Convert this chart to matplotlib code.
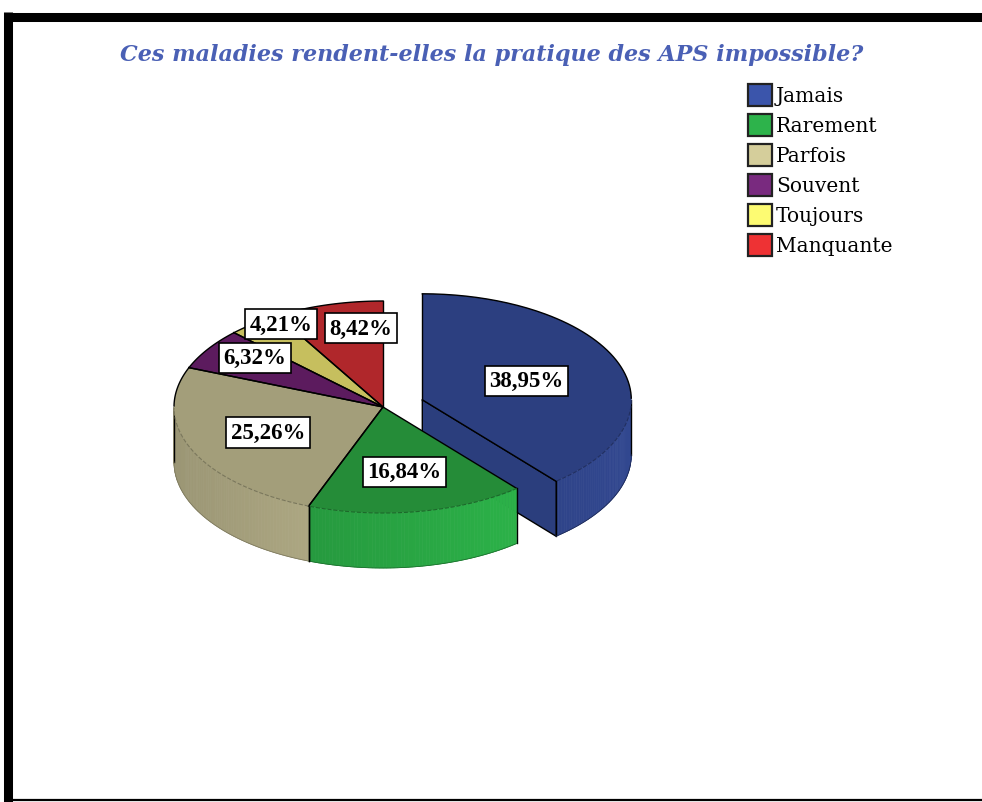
import numpy as np
import matplotlib.pyplot as plt
from matplotlib.patches import Polygon, Rectangle
from matplotlib.colors import to_rgb

# données
categories = ['Jamais', 'Rarement', 'Parfois', 'Souvent', 'Toujours', 'Manquante']
counts = [37, 16, 24, 6, 4, 8]
explode = [0.2, 0, 0, 0, 0, 0]

top_colors = ['#2c3f80', '#258c38', '#a39e7a', '#5c1b5e', '#c6bf5e', '#b0272b']
side_colors = ['#2b3e7d', '#28a242', '#b6b089', '#4e1650', '#aaa550', '#95202a']
legend_colors = ['#3b55ab', '#2db34b', '#d5ce9b', '#792a7f', '#fdfb72', '#ee3234']

# placement des étiquettes (rayon relatif, décalage angulaire)
label_r = [0.53, 0.62, 0.60, 0.77, 0.92, 0.75]
label_dt = [0, 0, 0, -4, -6, -7]

# géométrie du camembert (en pixels)
cx, cy = 383, 408
rx, ry = 209, 106
depth = 55

W, H = 982, 803
fig = plt.figure(figsize=(W / 100, H / 100), dpi=100)
ax = fig.add_axes([0, 0, 1, 1])
ax.set_xlim(0, W)
ax.set_ylim(H, 0)
ax.axis('off')

total = sum(counts)
fracs = [c / total for c in counts]


def pt(t, ox=0.0, oy=0.0, dz=0.0, r=1.0):
    a = np.radians(t)
    return cx + ox + r * rx * np.cos(a), cy + oy - r * ry * np.sin(a) + dz


def arc(a, b, ox, oy, dz=0.0):
    n = max(2, int(abs(b - a)) + 1)
    ts = np.linspace(a, b, n)
    xs, ys = pt(ts, ox, oy, dz)
    return np.column_stack([xs, ys])


def shade(c, f):
    return tuple(np.clip(np.array(to_rgb(c)) * f, 0, 1))


slices = []
start = 90.0
for i, f in enumerate(fracs):
    t1 = start
    t2 = start - f * 360
    mid = (t1 + t2) / 2
    ox = explode[i] * rx * np.cos(np.radians(mid))
    oy = -explode[i] * ry * np.sin(np.radians(mid))
    slices.append((i, t1, t2, mid, ox, oy))
    start = t2


def draw_slice(i, t1, t2, mid, ox, oy):
    # face coupée (seulement pour la part détachée)
    if explode[i] > 0:
        for t, nrm in ((t1, t1 + 90), (t2, t2 - 90)):
            if np.sin(np.radians(nrm)) < -0.01:
                c0 = pt(0, ox, oy, r=0)
                e0 = pt(t, ox, oy)
                face = [c0, e0, (e0[0], e0[1] + depth), (c0[0], c0[1] + depth)]
                ax.add_patch(Polygon(face, closed=True, facecolor=side_colors[i],
                                     edgecolor='black', lw=1.0, zorder=2))
    # paroi extérieure visible
    lo, hi = max(t2, -180), min(t1, 0)
    if hi > lo:
        ts = np.linspace(hi, lo, int(hi - lo) + 2)
        for a, b in zip(ts[:-1], ts[1:]):
            fac = 1 + 0.15 * np.cos(np.radians((a + b) / 2))
            top = arc(a, b, ox, oy)
            bot = arc(b, a, ox, oy, depth)
            ax.add_patch(Polygon(np.vstack([top, bot]), closed=True,
                                 facecolor=shade(side_colors[i], fac),
                                 edgecolor=shade(side_colors[i], fac), lw=0.5, zorder=2))
        for t in (hi, lo):
            x0, y0 = pt(t, ox, oy)
            ax.plot([x0, x0], [y0, y0 + depth], color='black', lw=1.0, zorder=3)
        b = arc(hi, lo, ox, oy, depth)
        ax.plot(b[:, 0], b[:, 1], color=shade(side_colors[i], 0.7), lw=0.6, zorder=3)
    # dessus
    c0 = pt(0, ox, oy, r=0)
    top = np.vstack([[c0], arc(t1, t2, ox, oy)])
    ax.add_patch(Polygon(top, closed=True, facecolor=top_colors[i],
                         edgecolor='none', zorder=4))
    for t in (t1, t2):
        e = pt(t, ox, oy)
        ax.plot([c0[0], e[0]], [c0[1], e[1]], color='black', lw=1.0, zorder=5)
    a = arc(t1, t2, ox, oy)
    back = np.sin(np.radians(np.linspace(t1, t2, len(a)))) >= 0
    ax.plot(np.where(back, a[:, 0], np.nan), np.where(back, a[:, 1], np.nan),
            color='black', lw=1.0, zorder=5)
    ax.plot(np.where(~back, a[:, 0], np.nan), np.where(~back, a[:, 1], np.nan),
            color=shade(top_colors[i], 0.75), lw=0.8, ls='--', zorder=5)


# parts détachées d'abord, puis le reste
for s in sorted(slices, key=lambda s: -explode[s[0]]):
    draw_slice(*s)

# étiquettes
for i, t1, t2, mid, ox, oy in slices:
    pct = fracs[i] * 100
    txt = f'{pct:.2f}%'.replace('.', ',')
    x, y = pt(mid + label_dt[i], ox, oy, r=label_r[i])
    ax.text(x, y, txt, ha='center', va='center', fontsize=16.5, fontweight='bold',
            family='Liberation Serif', zorder=6,
            bbox=dict(boxstyle='square,pad=0.2', facecolor='white',
                      edgecolor='black', lw=1.2))

# légende
for k, (lab, col) in enumerate(zip(categories, legend_colors)):
    yk = 96 + 30 * k
    ax.add_patch(Rectangle((748, yk - 11), 24, 22, facecolor=col,
                           edgecolor='#222222', lw=1.6, zorder=6))
    ax.text(776, yk, lab, ha='left', va='center', fontsize=14.5,
            family='DejaVu Serif', color='black', zorder=6)

# titre
ax.text(492, 55, 'Ces maladies rendent-elles la pratique des APS impossible?',
        ha='center', va='center', fontsize=16, fontweight='bold', style='italic',
        family='DejaVu Serif', color='#4a60b5')

# cadre
ax.plot([4, W], [17.5, 17.5], color='black', lw=6.5, solid_capstyle='butt')
ax.plot([8.5, 8.5], [13, H], color='black', lw=6.5, solid_capstyle='butt')
ax.plot([8, W], [800.5, 800.5], color='black', lw=1.6, solid_capstyle='butt')

fig.savefig('out.png', dpi=100)
